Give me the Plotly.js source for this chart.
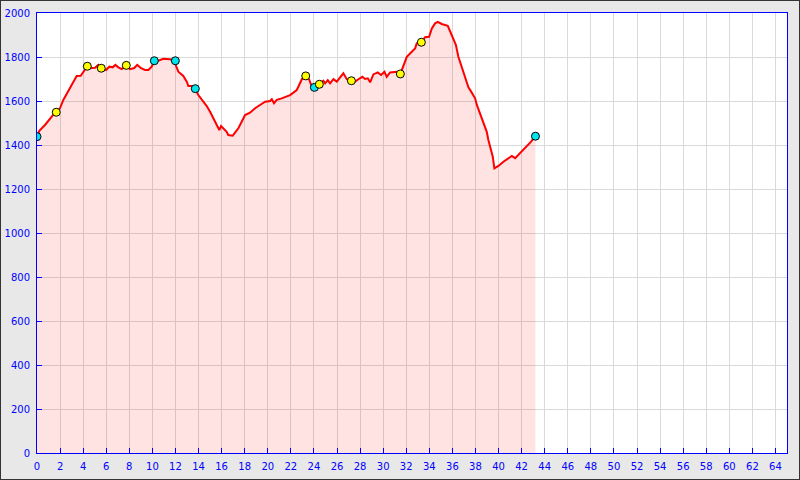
<!DOCTYPE html>
<html>
<head>
<meta charset="utf-8">
<script src="https://cdn.plot.ly/plotly-3.0.1.min.js"></script>
<style>
html,body{margin:0;padding:0;background:#e8e8e8;}
#wrap{width:800px;height:480px;box-sizing:border-box;border:1px solid #333;overflow:hidden;}
#chart{width:798px;height:478px;}
</style>
</head>
<body>
<div id="wrap"><div id="chart"></div></div>
<script>
// Elevation profile: distance (km) and elevation (m)
const distanceKm = [0.00,0.20,0.69,1.13,1.56,1.67,1.99,2.28,2.51,2.80,3.01,3.29,3.44,3.79,4.01,4.36,4.74,5.03,5.31,5.57,5.98,6.27,6.56,6.79,7.05,7.34,7.74,8.06,8.43,8.69,9.02,9.36,9.65,9.94,10.17,10.51,10.95,11.30,11.53,11.99,12.02,12.25,12.68,12.98,13.12,13.41,13.72,13.98,14.28,14.71,15.00,15.28,15.52,15.80,15.95,16.15,16.44,16.58,16.96,17.16,17.45,17.74,18.03,18.46,18.90,19.33,19.77,20.20,20.35,20.54,20.78,21.21,21.65,21.93,22.22,22.51,22.65,22.95,23.29,23.58,23.81,24.04,24.47,24.82,24.97,25.20,25.40,25.69,25.98,26.27,26.55,26.85,27.25,27.57,27.85,28.20,28.43,28.67,28.87,29.15,29.53,29.82,30.11,30.31,30.60,30.89,31.18,31.49,31.75,32.05,32.48,32.77,32.91,33.31,33.63,33.98,34.22,34.50,34.73,35.08,35.60,35.89,36.09,36.30,36.52,36.82,37.10,37.39,37.68,37.97,38.12,38.40,38.69,38.98,39.12,39.35,39.50,39.64,39.99,40.42,40.86,41.15,41.44,41.72,42.02,42.24,42.45,42.82,43.20];
const elevationM = [1438,1465,1491,1521,1547,1549,1567,1605,1627,1653,1673,1703,1714,1715,1733,1758,1750,1751,1764,1749,1741,1756,1753,1764,1753,1745,1762,1745,1750,1764,1749,1741,1741,1756,1783,1783,1792,1791,1790,1783,1763,1733,1714,1688,1668,1668,1656,1627,1608,1577,1551,1521,1491,1468,1486,1476,1460,1445,1442,1456,1476,1506,1536,1547,1567,1582,1597,1600,1608,1590,1605,1612,1620,1627,1638,1650,1665,1699,1714,1699,1665,1662,1676,1692,1680,1695,1680,1699,1688,1710,1726,1699,1692,1688,1699,1710,1700,1703,1685,1721,1730,1718,1733,1710,1730,1733,1733,1723,1764,1801,1824,1839,1862,1867,1890,1892,1930,1953,1960,1950,1942,1905,1874,1855,1801,1756,1710,1662,1638,1612,1582,1544,1506,1460,1423,1377,1347,1294,1305,1324,1340,1350,1340,1355,1370,1385,1392,1415,1440];

// Waypoints
const cyanKm = [0.00,10.17,11.99,13.72,24.04,43.20];
const cyanElev = [1438,1783,1783,1656,1662,1440];
const yellowKm = [1.67,4.36,5.57,7.74,23.29,24.47,27.25,31.49,33.31];
const yellowElev = [1549,1758,1749,1762,1714,1676,1692,1723,1867];

// Axis ticks
const xTicks = [0,2,4,6,8,10,12,14,16,18,20,22,24,26,28,30,32,34,36,38,40,42,44,46,48,50,52,54,56,58,60,62,64];
const yTicks = [0,200,400,600,800,1000,1200,1400,1600,1800,2000];

const traces = [
  {x: distanceKm, y: elevationM, type: 'scatter', mode: 'lines',
   fill: 'tozeroy', fillcolor: 'rgba(255,0,0,0.115)',
   line: {color: '#ff0000', width: 2}, hoverinfo: 'skip'},
  {x: cyanKm, y: cyanElev, type: 'scatter', mode: 'markers',
   marker: {size: 8, color: '#00e5ee', line: {color: '#000', width: 1}}, hoverinfo: 'skip'},
  {x: yellowKm, y: yellowElev, type: 'scatter', mode: 'markers',
   marker: {size: 8, color: '#ffff00', line: {color: '#000', width: 1}}, hoverinfo: 'skip'}
];

const axisFont = {family: 'DejaVu Sans, Verdana, sans-serif', size: 10, color: '#0000ff'};

const layout = {
  width: 798, height: 478,
  margin: {l: 36, r: 12, t: 12, b: 26, pad: 0},
  paper_bgcolor: '#e8e8e8',
  plot_bgcolor: '#ffffff',
  showlegend: false,
  xaxis: {
    range: [0, 65], tickmode: 'array', tickvals: xTicks, ticktext: xTicks.map(String),
    ticks: 'inside', ticklen: 5, tickcolor: '#0000ff', tickwidth: 1,
    showline: true, linecolor: '#0000ff', linewidth: 1, mirror: true,
    showgrid: true, gridcolor: '#d9d9d9', gridwidth: 1, zeroline: false,
    tickfont: axisFont, ticklabelstandoff: 4, fixedrange: true
  },
  yaxis: {
    range: [0, 2000], tickmode: 'array', tickvals: yTicks, ticktext: yTicks.map(String),
    ticks: 'inside', ticklen: 5, tickcolor: '#0000ff', tickwidth: 1,
    showline: true, linecolor: '#0000ff', linewidth: 1, mirror: true,
    showgrid: true, gridcolor: '#d9d9d9', gridwidth: 1, zeroline: false,
    tickfont: axisFont, ticklabelstandoff: 4, fixedrange: true
  }
};

Plotly.newPlot('chart', traces, layout, {displayModeBar: false, staticPlot: true});
</script>
</body>
</html>
